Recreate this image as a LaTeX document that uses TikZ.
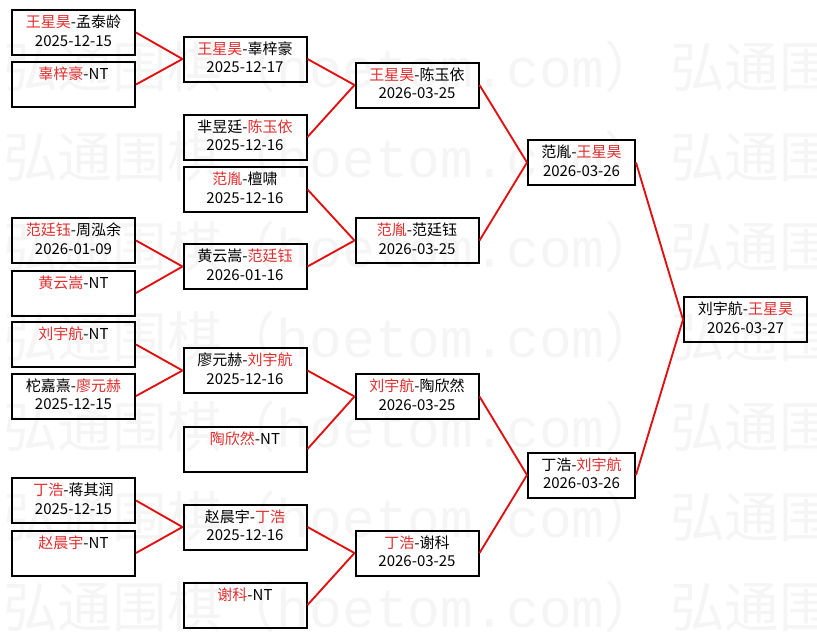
\documentclass[tikz,border=0pt]{standalone}
\usepackage{fontspec}
\setmainfont{Noto Sans CJK SC}
\newfontfamily\wmlatin{Liberation Mono}
\definecolor{winred}{RGB}{225,45,45}
\definecolor{linkred}{RGB}{225,15,15}
\definecolor{wmgray}{RGB}{245,245,245}
\newcommand{\w}[1]{\textcolor{winred}{#1}}
\newcommand{\gs}{\rule[-2.5pt]{0pt}{10.9pt}}
\newcommand{\wmtext}{弘通围棋（{\wmlatin hoetom.com}）}
\tikzset{
  game/.style={draw=black, line width=1.5pt, minimum width=92.25pt, minimum height=33.75pt,
    inner sep=0pt, align=center, font=\fontsize{11.25}{13.9}\selectfont},
  narrow/.style={minimum width=80.25pt},
  link/.style={draw=linkred, line width=1.4pt},
  wmark/.style={text=wmgray, inner sep=0pt, font=\fontsize{41}{41}\selectfont}
}

\begin{document}
\begin{tikzpicture}[x=0.75pt, y=-0.75pt]
  \useasboundingbox (0,0) rectangle (817,637);

  % Watermark
  \begin{scope}
    \clip (0,0) rectangle (817,637);
    \foreach \y in {67,157,...,607} {
      \node[wmark, anchor=west] (wm-\y-a) at (3,\y) {\wmtext};
      \node[wmark, anchor=west] (wm-\y-b) at (670,\y) {\wmtext};
    }
  \end{scope}

  % Round 1
  \node[game] (r1a) at (73.5,32.5) {\gs\w{王星昊}-孟泰龄\\\gs 2025-12-15};
  \node[game] (r1b) at (73.5,84.5) {\gs\w{辜梓豪}-NT\\\gs};
  \node[game] (r1c) at (73.5,240.5) {\gs\w{范廷钰}-周泓余\\\gs 2026-01-09};
  \node[game] (r1d) at (73.5,293) {\gs\w{黄云嵩}-NT\\\gs};
  \node[game] (r1e) at (73.5,344.5) {\gs\w{刘宇航}-NT\\\gs};
  \node[game] (r1f) at (73.5,396) {\gs 柁嘉熹-\w{廖元赫}\\\gs 2025-12-15};
  \node[game] (r1g) at (73.5,500.5) {\gs\w{丁浩}-蒋其润\\\gs 2025-12-15};
  \node[game] (r1h) at (73.5,553) {\gs\w{赵晨宇}-NT\\\gs};

  % Round 2
  \node[game] (r2a) at (245,59) {\gs\w{王星昊}-辜梓豪\\\gs 2025-12-17};
  \node[game] (r2b) at (245,137) {\gs 芈昱廷-\w{陈玉依}\\\gs 2025-12-16};
  \node[game] (r2c) at (245,189.5) {\gs\w{范胤}-檀啸\\\gs 2025-12-16};
  \node[game] (r2d) at (245,266.5) {\gs 黄云嵩-\w{范廷钰}\\\gs 2026-01-16};
  \node[game] (r2e) at (245,370.5) {\gs 廖元赫-\w{刘宇航}\\\gs 2025-12-16};
  \node[game] (r2f) at (245,449) {\gs\w{陶欣然}-NT\\\gs};
  \node[game] (r2g) at (245,527) {\gs 赵晨宇-\w{丁浩}\\\gs 2025-12-16};
  \node[game] (r2h) at (245,605) {\gs\w{谢科}-NT\\\gs};

  % Round 3
  \node[game] (r3a) at (417,85) {\gs\w{王星昊}-陈玉依\\\gs 2026-03-25};
  \node[game] (r3b) at (417,240.5) {\gs\w{范胤}-范廷钰\\\gs 2026-03-25};
  \node[game] (r3c) at (417,396.5) {\gs\w{刘宇航}-陶欣然\\\gs 2026-03-25};
  \node[game] (r3d) at (417,553) {\gs\w{丁浩}-谢科\\\gs 2026-03-25};

  % Semifinals
  \node[game, narrow] (r4a) at (581.5,162.5) {\gs 范胤-\w{王星昊}\\\gs 2026-03-26};
  \node[game, narrow] (r4b) at (581.5,475) {\gs 丁浩-\w{刘宇航}\\\gs 2026-03-26};

  % Final
  \node[game] (final) at (745.5,319.5) {\gs 刘宇航-\w{王星昊}\\\gs 2026-03-27};

  % Links
  \foreach \a/\b in {r1a/r2a, r1b/r2a, r1c/r2d, r1d/r2d, r1e/r2e, r1f/r2e, r1g/r2g, r1h/r2g,
      r2a/r3a, r2b/r3a, r2c/r3b, r2d/r3b, r2e/r3c, r2f/r3c, r2g/r3d, r2h/r3d,
      r3a/r4a, r3b/r4a, r3c/r4b, r3d/r4b, r4a/final, r4b/final}
    \draw[link] (\a.east) -- (\b.west);
\end{tikzpicture}
\end{document}
